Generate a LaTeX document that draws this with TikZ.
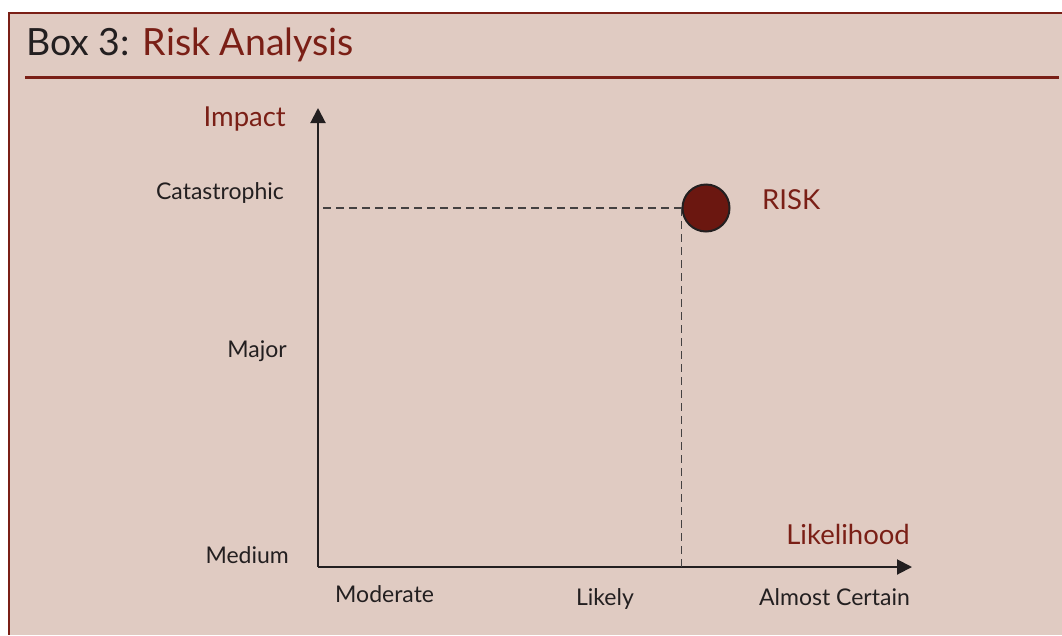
\documentclass[tikz,border=0pt]{standalone}
\usepackage{fontspec}
\setmainfont{Lato}
\usetikzlibrary{arrows.meta}
\usetikzlibrary{positioning}
\definecolor{boxfill}{HTML}{E0CBC2}
\definecolor{boxred}{HTML}{7A1F16}
\definecolor{riskred}{HTML}{6B1710}
\definecolor{ink}{HTML}{231F20}
\tikzset{
    level/.style={
           inner sep=0pt,
           text=ink,
           font=\fontsize{23}{27}\selectfont,
           },
}
\tikzset{
    axislabel/.style={
           inner sep=0pt,
           text=boxred,
           font=\fontsize{27.5}{32}\selectfont,
           },
}
\tikzset{
    axis/.style={
           draw=ink, line width=2pt,
           -{Triangle[length=15pt,width=15pt]},
           },
}
\tikzset{
    guide/.style={
           draw=ink!85, line width=1.2pt,
           dash pattern=on 8pt off 5pt,
           },
}
\begin{document}
\begin{tikzpicture}[x=1pt,y=-1pt]
\useasboundingbox (0,0) rectangle (1062,635);
\fill[white] (0,0) rectangle (1062,635);
\fill[boxfill] (9,12.5) rectangle (1062,635);
\draw[boxred,line width=2pt] (1062,12.5) -- (9,12.5) -- (9,635);
\draw[boxred,line width=3pt] (25,77.5) -- (1059,77.5);
\node[anchor=base west,inner sep=0pt,text=ink,font=\fontsize{37.5}{43}\selectfont](title) at (26,55){Box 3: \textcolor{boxred}{Risk Analysis}};
\coordinate (O) at (318,567);
\coordinate (ytip) at (318,108);
\coordinate (xtip) at (912,567);
\node[circle,fill=riskred,draw=ink,line width=2pt,minimum size=47pt,inner sep=0pt](risk) at (706,208){};
\node[axislabel,anchor=base west](risklbl) at (762,209){RISK};
\node[axislabel,anchor=base east](impact) at (286,126){Impact};
\node[axislabel,anchor=base east](likeli) at (910,544){Likelihood};
\node[level,anchor=base east](cat) at (284,199){Catastrophic};
\node[level,anchor=base east](maj) at (287,357){Major};
\node[level,anchor=base east](med) at (289,563){Medium};
\node[level,anchor=base west](mod) at (335,602){Moderate};
\node[level,anchor=base](lik) at (605,605){Likely};
\node[level,anchor=base east](alm) at (910,605){Almost Certain};
\path (O) edge[axis] (ytip);
\path (O) edge[axis] (xtip);
\path (risk.west) edge[guide] ([xshift=4pt]O |- risk.west);
\path (risk.west) edge[guide] (risk.west |- O);
\end{tikzpicture}
\end{document}
